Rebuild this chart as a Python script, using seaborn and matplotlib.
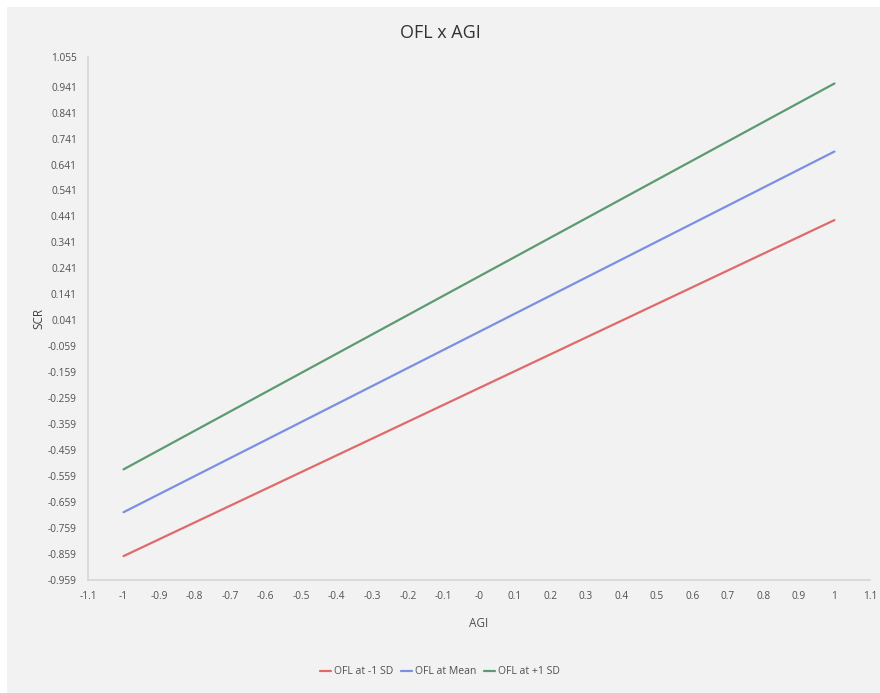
import numpy as np
import pandas as pd
import seaborn as sns
import matplotlib.pyplot as plt
from matplotlib.patches import Rectangle

# values
agi = [-1.0, 1.0]
scr_low = [-0.867, 0.427]    # OFL at -1 SD
scr_mean = [-0.698, 0.691]   # OFL at Mean
scr_high = [-0.533, 0.953]   # OFL at +1 SD
series_names = ["OFL at -1 SD", "OFL at Mean", "OFL at +1 SD"]
series_colors = ["#e06a6a", "#7b8fe3", "#5c9a72"]

x_ticks = [round(v, 1) for v in np.arange(-1.1, 1.15, 0.1)]
x_labels = ["-1.1", "-1", "-0.9", "-0.8", "-0.7", "-0.6", "-0.5", "-0.4", "-0.3", "-0.2",
            "-0.1", "-0", "0.1", "0.2", "0.3", "0.4", "0.5", "0.6", "0.7", "0.8", "0.9", "1", "1.1"]
y_min, y_max = -0.959, 1.055
y_ticks = [round(y_min + 0.1 * k, 3) for k in range(20)] + [y_max]

df = pd.DataFrame({
    "AGI": agi * 3,
    "SCR": scr_low + scr_mean + scr_high,
    "series": [n for n in series_names for _ in agi],
})

sns.set_style("white")
plt.rcParams["font.family"] = ["Open Sans", "DejaVu Sans"]
bg = "#f2f2f2"
txt = "#505050"

fig = plt.figure(figsize=(8.8, 6.93), dpi=100, facecolor="white")
fig.patches.append(Rectangle((7 / 880, 0), 1, 1 - 7 / 693, transform=fig.transFigure,
                             facecolor=bg, edgecolor="none", zorder=-10))
ax = fig.add_axes([88 / 880, 1 - 580 / 693, (870 - 88) / 880, (580 - 57) / 693])
ax.set_facecolor(bg)

sns.lineplot(data=df, x="AGI", y="SCR", hue="series", palette=series_colors,
             hue_order=series_names, linewidth=1.6, ax=ax, legend=True)

ax.set_xlim(-1.1, 1.1)
ax.set_ylim(y_min, y_max)
ax.set_xticks(x_ticks)
ax.set_xticklabels(x_labels)
ax.set_yticks(y_ticks)
ax.set_yticklabels([f"{v:.3f}" for v in y_ticks])
ax.tick_params(axis="both", labelsize=7.3, colors="#cccccc", labelcolor=txt,
               length=4, width=0.8, direction="out", pad=4)

for side in ["top", "right"]:
    ax.spines[side].set_visible(False)
for side in ["left", "bottom"]:
    ax.spines[side].set_color("#d6d6d6")
    ax.spines[side].set_linewidth(1.2)

ax.set_xlabel("AGI", fontsize=8.5, color=txt, labelpad=11)
ax.set_ylabel("SCR", fontsize=8.5, color="#404040", labelpad=2)
fig.text(0.5, 1 - 33 / 693, "OFL x AGI", ha="center", va="center", fontsize=13, color="#333333")

handles, labels = ax.get_legend_handles_labels()
ax.legend_.remove()
fig.legend(handles, labels, loc="center", bbox_to_anchor=(0.5, 1 - 672 / 693), ncol=3,
           frameon=False, fontsize=7.5, handlelength=1.0, handletextpad=0.3,
           columnspacing=0.8, labelcolor=txt)

fig.savefig("out.png", dpi=100, facecolor=fig.get_facecolor())
